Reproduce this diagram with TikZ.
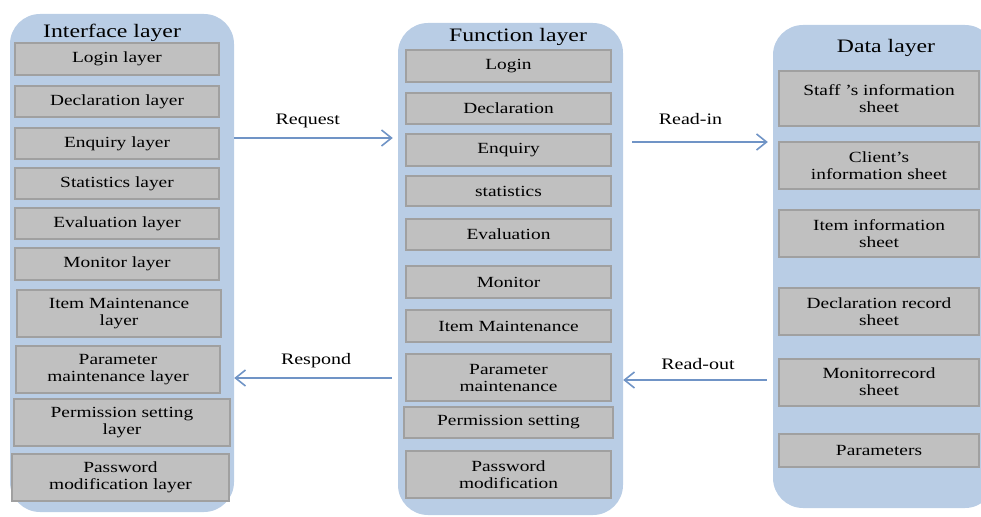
\documentclass[tikz,border=0pt]{standalone}
\usepackage{fontspec}
\setmainfont{Liberation Serif}[FakeStretch=1.25]
\usetikzlibrary{arrows.meta, positioning}
\definecolor{panelblue}{HTML}{B9CDE5}
\definecolor{cellgray}{HTML}{C0C0C0}
\definecolor{cellline}{HTML}{A0A0A0}
\definecolor{arrowblue}{HTML}{7094C6}

\begin{document}
\begin{tikzpicture}[x=1pt, y=-1pt,
	panel/.style={fill=panelblue, rounded corners=30pt, inner sep=0pt},
	cell/.style={draw=cellline, fill=cellgray, line width=2pt, inner sep=0pt, align=center, font=\fontsize{15.5}{17}\selectfont},
	icell/.style={cell, minimum width=203.5pt, minimum height=31.5pt},
	fcell/.style={cell, minimum width=204.5pt, minimum height=31.5pt},
	dcell/.style={cell, minimum width=199.5pt, minimum height=47pt},
	tall/.style={minimum height=47pt},
	title/.style={font=\fontsize{19}{22}\selectfont},
	flow/.style={-{Straight Barb[length=10pt,width=16pt]}, draw=arrowblue, line width=1.6pt},
	tag/.style={font=\fontsize{16}{18}\selectfont, above=6pt}]
	\useasboundingbox (0,0) rectangle (981,516);
	\clip (0,0) rectangle (981,516);

	% the three layers
	\node[panel, minimum width=224pt, minimum height=498pt] (iface) at (122,263) {};
	\node[panel, minimum width=225pt, minimum height=492pt] (func) at (510.5,269) {};
	\node[panel, minimum width=222pt, minimum height=483pt] (data) at (884,266.5) {};

	\node[title] (ititle) at (112,33) {Interface layer};
	\node[title] (ftitle) at (518,37) {Function layer};
	\node[title] (dtitle) at (886,48) {Data layer};

	% interface layer
	\node[icell] (i1) at (117,59) {Login layer};
	\node[icell] (i2) at (117,101.5) {Declaration layer};
	\node[icell] (i3) at (117,143.5) {Enquiry layer};
	\node[icell] (i4) at (117,183.5) {Statistics layer};
	\node[icell] (i5) at (117,223.5) {Evaluation layer};
	\node[icell] (i6) at (117,264) {Monitor layer};
	\node[icell, tall] (i7) at (119,313.5) {Item Maintenance\\layer};
	\node[icell, tall] (i8) at (118,369.5) {Parameter\\maintenance layer};
	\node[icell, tall, minimum width=216pt] (i9) at (122,422.5) {Permission setting\\layer};
	\node[icell, tall, minimum width=217pt] (i10) at (120.5,477) {Password\\modification layer};

	% function layer
	\node[fcell] (f1) at (508.5,66) {Login};
	\node[fcell] (f2) at (508.5,108.5) {Declaration};
	\node[fcell] (f3) at (508.5,150) {Enquiry};
	\node[fcell, minimum height=30pt] (f4) at (508.5,191) {statistics};
	\node[fcell] (f5) at (508.5,234.5) {Evaluation};
	\node[fcell] (f6) at (508.5,282) {Monitor};
	\node[fcell] (f7) at (508.5,326) {Item Maintenance};
	\node[fcell, tall] (f8) at (508.5,377.5) {Parameter\\maintenance};
	\node[fcell, minimum width=209pt] (f9) at (508.5,422.5) {Permission setting};
	\node[fcell, tall] (f10) at (508.5,474.5) {Password\\modification};

	% data layer
	\node[dcell, minimum height=55pt] (d1) at (879,98.5) {Staff ’s information\\sheet};
	\node[dcell] (d2) at (879,165.5) {Client’s\\information sheet};
	\node[dcell] (d3) at (879,233.5) {Item information\\sheet};
	\node[dcell] (d4) at (879,311.5) {Declaration record\\sheet};
	\node[dcell] (d5) at (879,382) {Monitorrecord\\sheet};
	\node[dcell, minimum height=33pt] (d6) at (879,450.5) {Parameters};

	% requests and replies
	\path (iface.east |- 0,138) edge[flow, shorten >=5pt] node[tag, pos=0.45] {Request} (func.west |- 0,138);
	\path (func.east |- 0,142) edge[flow, shorten <=9pt, shorten >=5pt] node[tag, above=13pt, pos=0.45] {Read-in} (data.west |- 0,142);
	\path (func.west |- 0,378) edge[flow, shorten <=6pt] node[tag, pos=0.5] {Respond} (iface.east |- 0,378);
	\path (data.west |- 0,380) edge[flow, shorten <=6pt] node[tag] {Read-out} (func.east |- 0,380);
\end{tikzpicture}
\end{document}
